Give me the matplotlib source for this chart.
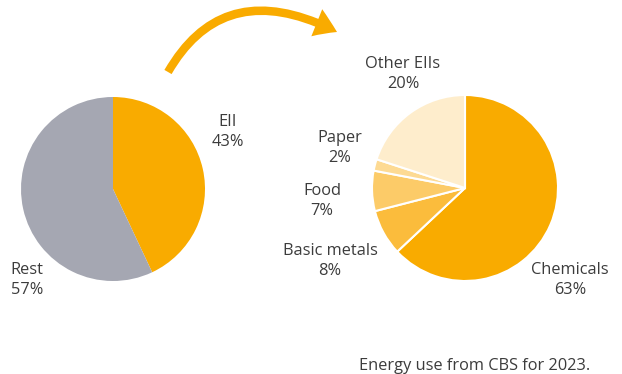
import matplotlib.pyplot as plt
from matplotlib.patches import FancyArrowPatch

plt.rcParams['font.family'] = ['Open Sans', 'DejaVu Sans']

# total energy use split
total_labels = ['EII', 'Rest']
total_values = [43, 57]
total_colors = ['#F9AB00', '#A5A7B2']

# energy intensive industries split
eii_labels = ['Chemicals', 'Basic metals', 'Food', 'Paper', 'Other EIIs']
eii_values = [63, 8, 7, 2, 20]
eii_colors = ['#F9AB00', '#FBBC3C', '#FCCB68', '#FDDA93', '#FEEDCC']

txt = '#3C3C3C'
fs = 11.75

fig = plt.figure(figsize=(6.22, 3.74), dpi=100)
ax = fig.add_axes([0, 0, 1, 1])

ax.pie(total_values, colors=total_colors, startangle=90, counterclock=False,
       center=(113, 185), radius=92, frame=True,
       wedgeprops=dict(linewidth=0))
ax.pie(eii_values, colors=eii_colors, startangle=90, counterclock=False,
       center=(465, 186), radius=93, frame=True,
       wedgeprops=dict(edgecolor='white', linewidth=1.5))
ax.set_xlim(0, 622)
ax.set_ylim(0, 374)
ax.axis('off')

# label block centres
total_pos = [(228, 242), (27, 94)]
eii_pos = [(570, 94), (330, 113), (322, 173), (340, 226), (403, 300)]

for (x, y), name, v in zip(total_pos, total_labels, total_values):
    ax.text(x, y, f'{name}\n{v}%', ha='center', va='center', fontsize=fs,
            color=txt, linespacing=1.3)
for (x, y), name, v in zip(eii_pos, eii_labels, eii_values):
    ax.text(x, y, f'{name}\n{v}%', ha='center', va='center', fontsize=fs,
            color=txt, linespacing=1.3)

arrow = FancyArrowPatch((168, 302), (337, 342),
                        connectionstyle='angle3,angleA=60,angleB=-27',
                        arrowstyle='Simple,head_length=0.8,head_width=1.05,tail_width=0.3',
                        mutation_scale=20, lw=0, color='#F9AB00',
                        shrinkA=0, shrinkB=0)
ax.add_patch(arrow)

ax.text(359, 8, 'Energy use from CBS for 2023.', ha='left', va='center',
        fontsize=fs, color=txt)

fig.savefig('out.png', dpi=100)
